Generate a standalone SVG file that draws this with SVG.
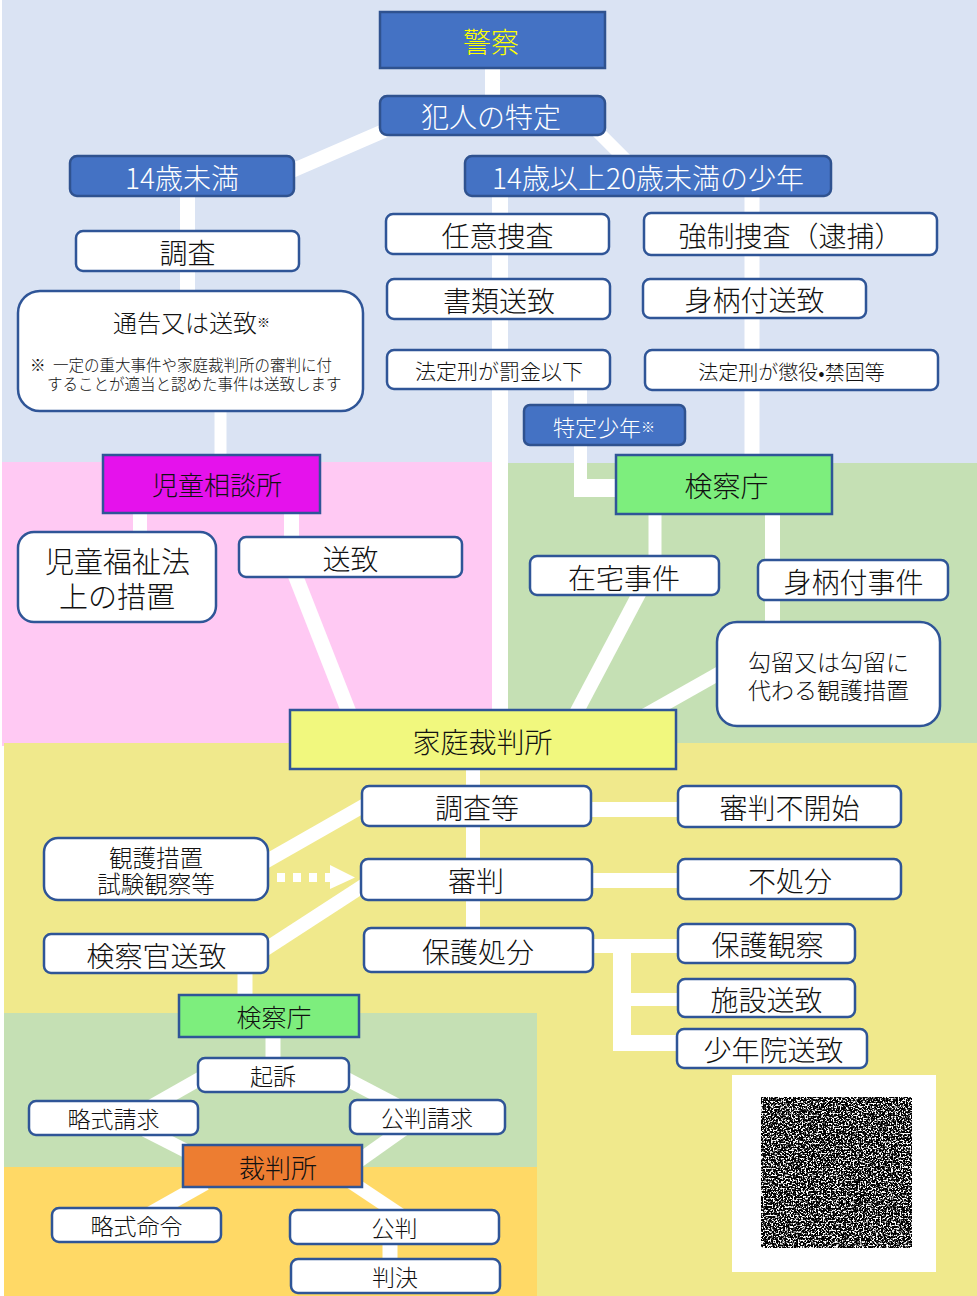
<svg xmlns="http://www.w3.org/2000/svg" width="977" height="1296" viewBox="0 0 977 1296">
<style>
text{font-family:"Noto Sans CJK JP","Noto Sans CJK SC",sans-serif;font-weight:300;text-anchor:middle;dominant-baseline:central;fill:#111}
.w{fill:#fff;stroke:#2F5597;stroke-width:2.5}
.b{fill:#4472C4;stroke:#2F528F;stroke-width:2.5}
.sq{stroke:#2F5597;stroke-width:2.5}
.c line{stroke:#fff;fill:none;stroke-linecap:butt}
.c rect,.c polygon{fill:#fff}
.t28{font-size:28px}
.t23{font-size:23px}
</style>
<defs>
<filter id="noise" x="0" y="0" width="100%" height="100%">
<feTurbulence type="fractalNoise" baseFrequency="0.6" numOctaves="2" seed="11" result="n"/>
<feColorMatrix in="n" type="matrix" values="0 0 0 0 0 0 0 0 0 0 0 0 0 0 0 -7 0 0 0 4.4" result="a"/>
<feComposite in="a" in2="SourceGraphic" operator="in"/>
</filter>
</defs>
<!-- background regions -->
<rect x="0" y="0" width="977" height="1296" fill="#fff"/>
<rect x="2" y="0" width="975" height="463" fill="#DAE3F3"/>
<rect x="2" y="462" width="490" height="284" fill="#FFC9F3"/>
<rect x="506" y="463" width="471" height="280" fill="#C5E0B4"/>
<rect x="4" y="743" width="973" height="553" fill="#F0E98C"/>
<rect x="4" y="1013" width="533" height="155" fill="#C5E0B4"/>
<rect x="4" y="1167" width="533" height="129" fill="#FFD966"/>

<g id="connectors" class="c">
<line x1="492.5" y1="66" x2="492.5" y2="98" stroke-width="15"/>
<line x1="400" y1="124" x2="280" y2="176" stroke-width="14"/>
<line x1="590" y1="124" x2="632" y2="166" stroke-width="13"/>
<line x1="187.5" y1="194" x2="187.5" y2="293" stroke-width="15"/>
<line x1="220.5" y1="409" x2="220.5" y2="457" stroke-width="12"/>
<line x1="500" y1="194" x2="500" y2="712" stroke-width="16"/>
<line x1="752" y1="194" x2="752" y2="457" stroke-width="15"/>
<line x1="580.5" y1="387" x2="580.5" y2="407" stroke-width="13"/>
<rect x="574" y="443" width="13" height="54"/>
<rect x="574" y="479" width="44" height="18"/>
<line x1="655" y1="512" x2="655" y2="558" stroke-width="13"/>
<line x1="772.5" y1="512" x2="772.5" y2="624" stroke-width="15"/>
<line x1="641" y1="590" x2="575" y2="715" stroke-width="14"/>
<line x1="725" y1="670" x2="640" y2="718" stroke-width="14"/>
<line x1="140" y1="511" x2="140" y2="534" stroke-width="14"/>
<line x1="291.5" y1="511" x2="291.5" y2="539" stroke-width="15"/>
<line x1="292" y1="567" x2="352" y2="720" stroke-width="15"/>
<line x1="473" y1="767" x2="473" y2="930" stroke-width="14"/>
<rect x="589" y="802" width="91" height="15"/>
<rect x="590" y="873" width="90" height="15"/>
<rect x="591" y="939" width="89" height="14"/>
<rect x="613" y="939" width="18" height="112"/>
<rect x="629" y="993" width="51" height="13"/>
<rect x="613" y="1035" width="66" height="16"/>
<line x1="258" y1="866" x2="372" y2="801" stroke-width="14"/>
<line x1="258" y1="954" x2="372" y2="880" stroke-width="14"/>
<line x1="245" y1="971" x2="245" y2="997" stroke-width="15"/>
<line x1="273" y1="1035" x2="273" y2="1060" stroke-width="15"/>
<line x1="210" y1="1073" x2="150" y2="1107" stroke-width="14"/>
<line x1="335" y1="1073" x2="400" y2="1107" stroke-width="14"/>
<line x1="145" y1="1130" x2="200" y2="1158" stroke-width="14"/>
<line x1="405" y1="1128" x2="350" y2="1167" stroke-width="14"/>
<line x1="205" y1="1183" x2="150" y2="1214" stroke-width="15"/>
<line x1="345" y1="1178" x2="405" y2="1218" stroke-width="14"/>
<line x1="390" y1="1242" x2="390" y2="1261" stroke-width="15"/>
<rect x="277" y="873" width="8" height="9"/>
<rect x="293" y="873" width="8" height="9"/>
<rect x="309" y="873" width="8" height="9"/>
<rect x="325" y="873" width="7" height="9"/>
<polygon points="330,865 355,877.5 330,889"/>
</g>

<g id="n-keisatsu"><rect x="380" y="12" width="225" height="56" fill="#4472C4" stroke="#2F528F" stroke-width="2.5"/><text x="491" y="41" font-size="28" style="fill:#FFFF00">警察</text></g>
<g id="n-hannin"><rect x="380" y="96" width="225" height="39" rx="7" class="b"/><text x="491" y="116" class="t28" style="fill:#fff">犯人の特定</text></g>
<g id="n-u14"><rect x="70" y="156" width="224" height="40" rx="7" class="b"/><text x="182" y="177" class="t28" style="fill:#fff">14歳未満</text></g>
<g id="n-14to20"><rect x="465" y="156" width="366" height="40" rx="7" class="b"/><text x="648" y="177" class="t28" style="fill:#fff">14歳以上20歳未満の少年</text></g>
<g id="n-chosa"><rect x="76" y="231" width="223" height="40" rx="7" class="w"/><text x="187.5" y="252" class="t28">調査</text></g>
<g id="n-tsukoku"><rect x="18" y="291" width="345" height="120" rx="22" class="w"/>
<text x="113" y="321" font-size="24" style="text-anchor:start">通告又は送致<tspan font-size="13">※</tspan></text>
<text font-size="15.5" style="text-anchor:start"><tspan x="30" y="364">※</tspan><tspan x="53" y="364">一定の重大事件や家庭裁判所の審判に付</tspan><tspan x="47" y="383">することが適当と認めた事件は送致します</tspan></text></g>
<g id="n-nini"><rect x="386" y="214" width="223" height="40" rx="7" class="w"/><text x="497.5" y="235" class="t28">任意捜査</text></g>
<g id="n-kyosei"><rect x="644" y="213" width="293" height="42" rx="7" class="w"/><text x="790.5" y="235" class="t28">強制捜査（逮捕）</text></g>
<g id="n-shorui"><rect x="387" y="279" width="223" height="40" rx="7" class="w"/><text x="499" y="300" class="t28">書類送致</text></g>
<g id="n-migara"><rect x="643" y="279" width="223" height="39" rx="7" class="w"/><text x="754.5" y="299" class="t28">身柄付送致</text></g>
<g id="n-bakkin"><rect x="387" y="350" width="223" height="39" rx="7" class="w"/><text x="499" y="370" font-size="21">法定刑が罰金以下</text></g>
<g id="n-choeki"><rect x="645" y="350" width="293" height="40" rx="7" class="w"/><text x="791.5" y="371" font-size="20">法定刑が懲役•禁固等</text></g>
<g id="n-tokutei"><rect x="524" y="405" width="161" height="40" rx="6" class="b"/><text x="604" y="426" font-size="22" style="fill:#fff">特定少年<tspan font-size="14">※</tspan></text></g>
<g id="n-jidosodan"><rect x="103" y="455" width="217" height="58" fill="#E512EC" class="sq"/><text x="217" y="483" font-size="26">児童相談所</text></g>
<g id="n-kensatsu1"><rect x="616" y="455" width="216" height="59" fill="#7DEE7D" class="sq"/><text x="726.5" y="485" class="t28">検察庁</text></g>
<g id="n-jidofukushi"><rect x="18" y="532" width="198" height="90" rx="16" class="w"/><text font-size="29"><tspan x="117.5" y="560">児童福祉法</tspan><tspan x="117" y="595">上の措置</tspan></text></g>
<g id="n-sochi1"><rect x="239" y="537" width="223" height="40" rx="7" class="w"/><text x="350.5" y="558" class="t28">送致</text></g>
<g id="n-zaitaku"><rect x="530" y="556" width="189" height="39" rx="7" class="w"/><text x="624" y="577" class="t28">在宅事件</text></g>
<g id="n-migarajiken"><rect x="758" y="560" width="190" height="40" rx="7" class="w"/><text x="853.5" y="581" class="t28">身柄付事件</text></g>
<g id="n-koryu"><rect x="717" y="622" width="223" height="104" rx="20" class="w"/><text font-size="23"><tspan x="828.5" y="661">勾留又は勾留に</tspan><tspan x="828.5" y="689">代わる観護措置</tspan></text></g>
<g id="n-kasai"><rect x="290" y="710" width="386" height="59" fill="#F1F87E" class="sq"/><text x="482.5" y="741" class="t28">家庭裁判所</text></g>
<g id="n-chosato"><rect x="362" y="786" width="229" height="40" rx="7" class="w"/><text x="477" y="807" class="t28">調査等</text></g>
<g id="n-shinpan"><rect x="361" y="859" width="231" height="41" rx="7" class="w"/><text x="476" y="880" class="t28">審判</text></g>
<g id="n-hogoshobun"><rect x="364" y="928" width="229" height="44" rx="7" class="w"/><text x="478" y="951" class="t28">保護処分</text></g>
<g id="n-fukaishi"><rect x="678" y="786" width="223" height="41" rx="7" class="w"/><text x="789.5" y="807" class="t28">審判不開始</text></g>
<g id="n-fushobun"><rect x="678" y="859" width="223" height="40" rx="7" class="w"/><text x="790" y="880" class="t28">不処分</text></g>
<g id="n-hogokansatsu"><rect x="678" y="924" width="177" height="39" rx="7" class="w"/><text x="767.5" y="944" class="t28">保護観察</text></g>
<g id="n-shisetsu"><rect x="678" y="979" width="177" height="38" rx="7" class="w"/><text x="766.5" y="999" class="t28">施設送致</text></g>
<g id="n-shonenin"><rect x="677" y="1029" width="190" height="39" rx="7" class="w"/><text x="773.5" y="1049" class="t28">少年院送致</text></g>
<g id="n-kango"><rect x="44" y="838" width="224" height="62" rx="14" class="w"/><text font-size="23.5"><tspan x="156" y="857">観護措置</tspan><tspan x="156" y="883">試験観察等</tspan></text></g>
<g id="n-kensatsukan"><rect x="44" y="934" width="224" height="39" rx="7" class="w"/><text x="156.5" y="955" class="t28">検察官送致</text></g>
<g id="n-kensatsu2"><rect x="179" y="995" width="180" height="42" fill="#7DEE7D" class="sq"/><text x="274" y="1016" font-size="25">検察庁</text></g>
<g id="n-kiso"><rect x="198" y="1058" width="151" height="34" rx="7" class="w"/><text x="273" y="1075" class="t23">起訴</text></g>
<g id="n-ryakushikiseikyu"><rect x="29" y="1101" width="169" height="34" rx="7" class="w"/><text x="113.5" y="1118" class="t23">略式請求</text></g>
<g id="n-kohanseikyu"><rect x="350" y="1100" width="155" height="34" rx="7" class="w"/><text x="427" y="1117" class="t23">公判請求</text></g>
<g id="n-saibansho"><rect x="183" y="1145" width="179" height="42" fill="#ED7D31" class="sq"/><text x="278" y="1166" font-size="26">裁判所</text></g>
<g id="n-ryakushikimeirei"><rect x="52" y="1208" width="169" height="34" rx="7" class="w"/><text x="136.5" y="1225" class="t23">略式命令</text></g>
<g id="n-kohan"><rect x="290" y="1210" width="209" height="34" rx="7" class="w"/><text x="394.5" y="1227" class="t23">公判</text></g>
<g id="n-hanketsu"><rect x="291" y="1259" width="209" height="34" rx="7" class="w"/><text x="395" y="1276" class="t23">判決</text></g>

<g id="qr">
<rect x="732" y="1075" width="204" height="197" fill="#fff"/>
<rect x="761" y="1097" width="151" height="151" fill="#000" filter="url(#noise)"/>
</g>
</svg>
